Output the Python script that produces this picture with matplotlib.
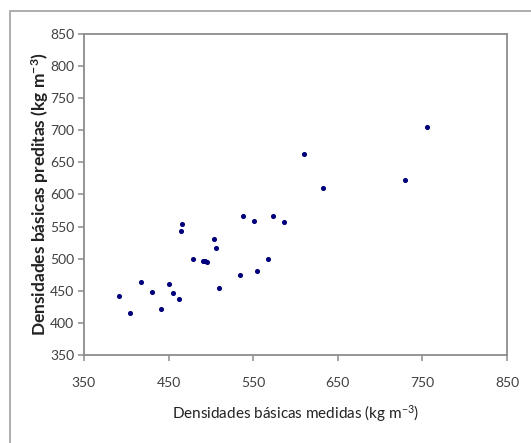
import matplotlib
matplotlib.use("Agg")
from matplotlib import pyplot as plt
from matplotlib.patches import Rectangle

# measured vs predicted basic density (kg m-3)
medidas = [391, 404, 417, 430, 441, 450, 455, 462, 465, 466, 479, 491, 493, 496,
           504, 506, 510, 534, 538, 551, 554, 567, 574, 587, 610, 632, 729, 755]
preditas = [442, 416, 463, 448, 422, 460, 447, 437, 543, 554, 499, 497, 496, 495,
            530, 516, 454, 475, 567, 558, 481, 499, 567, 557, 663, 610, 623, 705]

ticks = [350, 450, 550, 650, 750, 850]
yticks = [350, 400, 450, 500, 550, 600, 650, 700, 750, 800, 850]

plt.rcParams['font.family'] = ['Lato', 'DejaVu Sans']
plt.rcParams['mathtext.fontset'] = 'custom'
plt.rcParams['mathtext.rm'] = 'Lato'
plt.rcParams['mathtext.bf'] = 'Lato:bold'
plt.rcParams['mathtext.default'] = 'regular'

fig = plt.figure(figsize=(5.31, 4.43), dpi=100)
ax = fig.add_axes([0.158, 0.199, 0.797, 0.724])

# outer chart frame (only left and top edges visible)
fig.add_artist(Rectangle((10 / 531, -0.1), 1.2, 1 - 11 / 443 + 0.1,
                         transform=fig.transFigure, fill=False,
                         edgecolor='#a0a0a0', linewidth=1.2))

ax.scatter(medidas, preditas, s=7, color='#00007a', zorder=3)

ax.set_xlim(350, 850)
ax.set_ylim(350, 850)
ax.set_xticks(ticks)
ax.set_yticks(yticks)

for sp in ax.spines.values():
    sp.set_color('#8c8c8c')
    sp.set_linewidth(1.3)

ax.tick_params(axis='both', direction='out', length=4, width=1.1,
               color='#8c8c8c', labelcolor='#404040', labelsize=10)
ax.tick_params(axis='x', pad=12)
ax.tick_params(axis='y', pad=3)

ax.set_xlabel('Densidades básicas medidas (kg m$^{-3}$)', fontsize=11,
              color='#222222', labelpad=10)
ax.set_ylabel('Densidades básicas preditas (kg m$^{-3}$)', fontsize=12.5,
              fontweight='bold', color='#222222', labelpad=-1)

fig.savefig('out.png', dpi=100)
